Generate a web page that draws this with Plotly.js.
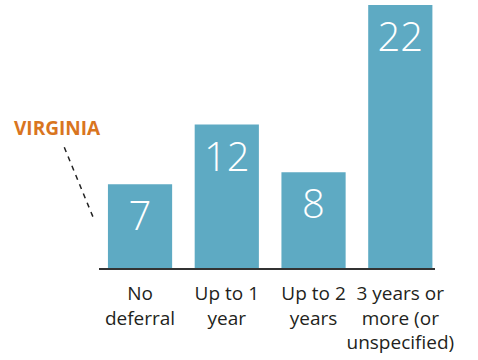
<!DOCTYPE html>
<html>
<head>
<meta charset="utf-8">
<script src="https://cdn.plot.ly/plotly-3.0.1.min.js"></script>
<style>
html,body{margin:0;padding:0;background:#fff;}
#chart{width:478px;height:360px;}
</style>
</head>
<body>
<div id="chart"></div>
<script>
var categories = ["No<br>deferral", "Up to 1<br>year", "Up to 2<br>years", "3 years or<br>more (or<br>unspecified)"];
var values = [7, 12, 8, 22];
var labelText = "VIRGINIA";

var trace = {
  type: "bar",
  x: categories,
  y: values,
  text: values.map(String),
  textposition: "inside",
  insidetextanchor: "end",
  textangle: 0,
  constraintext: "none",
  textfont: {family: "Open Sans, sans-serif", size: 40, color: "#ffffff", weight: 300},
  marker: {color: "#5eaac3", line: {width: 0}},
  hoverinfo: "none"
};

var layout = {
  width: 478,
  height: 360,
  margin: {l: 99, r: 43, t: 5, b: 92},
  paper_bgcolor: "#ffffff",
  plot_bgcolor: "#ffffff",
  bargap: 0.26,
  showlegend: false,
  xaxis: {
    type: "category",
    range: [-0.473, 3.40],
    showline: true,
    linecolor: "#333333",
    linewidth: 2,
    showgrid: false,
    zeroline: false,
    ticks: "",
    tickangle: 0,
    automargin: false,
    ticklabelstandoff: 7,
    tickfont: {family: "Open Sans, sans-serif", size: 19, color: "#231f20"}
  },
  yaxis: {
    range: [0, 22],
    visible: false,
    showgrid: false,
    zeroline: false
  },
  annotations: [{
    text: "<b>" + labelText + "</b>",
    xref: "paper", yref: "paper",
    x: -0.2589, y: 0.532,
    xanchor: "left", yanchor: "middle",
    showarrow: false,
    font: {family: "Open Sans, sans-serif", size: 19, color: "#d9751f"}
  }],
  shapes: [{
    type: "line",
    xref: "paper", yref: "paper",
    x0: -0.1033, y0: 0.4589,
    x1: -0.017, y1: 0.1913,
    line: {color: "#222222", width: 1.5, dash: "5px,5px"}
  }]
};

Plotly.newPlot("chart", [trace], layout, {displayModeBar: false, staticPlot: true});
</script>
</body>
</html>
